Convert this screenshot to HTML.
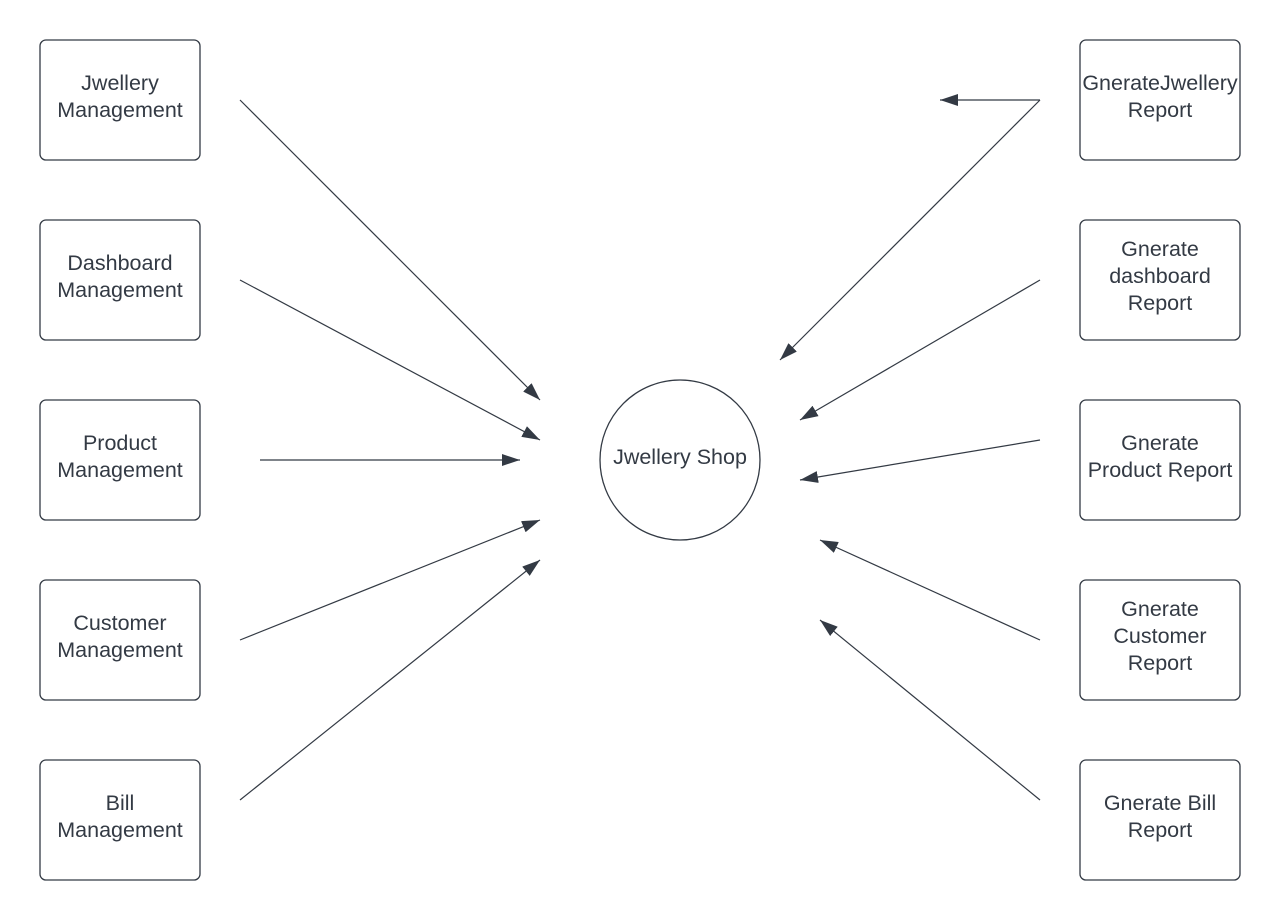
<!DOCTYPE html>
<html><head><meta charset="utf-8"><style>
html,body{margin:0;padding:0;background:#fff;width:1280px;height:920px;overflow:hidden}
text{font-family:"Liberation Sans",sans-serif;font-size:21.5px;fill:#333a44;text-anchor:middle}
</style></head><body>
<svg width="1280" height="920" viewBox="0 0 1280 920" xmlns="http://www.w3.org/2000/svg">
<defs><marker id="a" viewBox="0 0 18 12" refX="18" refY="6" markerWidth="18" markerHeight="12" markerUnits="userSpaceOnUse" orient="auto"><path d="M0,0 L18,6 L0,12 Z" fill="#333a44"/></marker></defs>
<g fill="none" stroke="#333a44" stroke-width="1.3">
<rect x="40" y="40" width="160" height="120" rx="6"/>
<rect x="40" y="220" width="160" height="120" rx="6"/>
<rect x="40" y="400" width="160" height="120" rx="6"/>
<rect x="40" y="580" width="160" height="120" rx="6"/>
<rect x="40" y="760" width="160" height="120" rx="6"/>
<rect x="1080" y="40" width="160" height="120" rx="6"/>
<rect x="1080" y="220" width="160" height="120" rx="6"/>
<rect x="1080" y="400" width="160" height="120" rx="6"/>
<rect x="1080" y="580" width="160" height="120" rx="6"/>
<rect x="1080" y="760" width="160" height="120" rx="6"/>
<circle cx="680" cy="460" r="80"/>
</g>
<g stroke="#333a44" stroke-width="1.2" marker-end="url(#a)">
<line x1="240" y1="100" x2="540" y2="400"/>
<line x1="240" y1="280" x2="540" y2="440"/>
<line x1="260" y1="460" x2="520" y2="460"/>
<line x1="240" y1="640" x2="540" y2="520"/>
<line x1="240" y1="800" x2="540" y2="560"/>
<line x1="1040" y1="100" x2="940" y2="100"/>
<line x1="1040" y1="100" x2="780" y2="360"/>
<line x1="1040" y1="280" x2="800" y2="420"/>
<line x1="1040" y1="440" x2="800" y2="480"/>
<line x1="1040" y1="640" x2="820" y2="540"/>
<line x1="1040" y1="800" x2="820" y2="620"/>
</g>
<text x="120" y="90">Jwellery</text><text x="120" y="117">Management</text>
<text x="120" y="270">Dashboard</text><text x="120" y="297">Management</text>
<text x="120" y="450">Product</text><text x="120" y="477">Management</text>
<text x="120" y="630">Customer</text><text x="120" y="657">Management</text>
<text x="120" y="810">Bill</text><text x="120" y="837">Management</text>
<text x="680" y="464">Jwellery Shop</text>
<text x="1160" y="90">GnerateJwellery</text><text x="1160" y="117">Report</text>
<text x="1160" y="256">Gnerate</text><text x="1160" y="283">dashboard</text><text x="1160" y="310">Report</text>
<text x="1160" y="450">Gnerate</text><text x="1160" y="477">Product Report</text>
<text x="1160" y="616">Gnerate</text><text x="1160" y="643">Customer</text><text x="1160" y="670">Report</text>
<text x="1160" y="810">Gnerate Bill</text><text x="1160" y="837">Report</text>
</svg>
</body></html>
